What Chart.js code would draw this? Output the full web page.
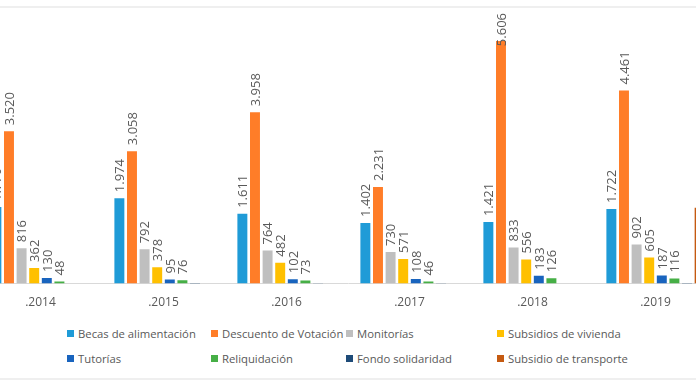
<!DOCTYPE html>
<html>
<head>
<meta charset="utf-8">
<script src="https://cdn.jsdelivr.net/npm/chart.js@4/dist/chart.umd.min.js"></script>
<style>
  html, body { margin: 0; padding: 0; background: #fff; }
  body { width: 696px; height: 385px; overflow: hidden; position: relative; font-family: "Open Sans", sans-serif; }
  #frame { position: absolute; left: 0; top: 6px; width: 696px; height: 370px; border-top: 2px solid #efefef; border-bottom: 2px solid #efefef; }
  #wrap { position: absolute; left: -21px; top: 0; width: 738px; height: 322px; }
  .leg { position: absolute; font-size: 11.3px; color: #595959; white-space: nowrap; line-height: 14px; }
  .leg i { display: inline-block; width: 7px; height: 7px; margin-right: 4px; vertical-align: 1px; }
</style>
</head>
<body>
<div id="frame"></div>
<div id="wrap"><canvas id="myChart"></canvas></div>
<div id="legend"></div>
<script>
//categories and series
const years = ['.2014', '.2015', '.2016', '.2017', '.2018', '.2019'];
const becas = [1770, 1974, 1611, 1402, 1421, 1722];
const descuento = [3520, 3058, 3958, 2231, 5606, 4461];
const monitorias = [816, 792, 764, 730, 833, 902];
const vivienda = [362, 378, 482, 571, 556, 605];
const tutorias = [130, 95, 102, 108, 183, 187];
const reliquidacion = [48, 76, 73, 46, 126, 116];
const fondo = [0, 15, 10, 10, 0, 15];
const transporte = [0, 0, 0, 0, 0, 1750];

//colors
const cBecas = 'rgb(31, 155, 215)';
const cDescuento = 'rgb(255, 125, 40)';
const cMonitorias = 'rgb(191, 191, 191)';
const cVivienda = 'rgb(255, 192, 0)';
const cTutorias = 'rgb(25, 100, 190)';
const cReliq = 'rgb(70, 175, 70)';
const cFondo = 'rgb(30, 75, 120)';
const cTransporte = 'rgb(197, 90, 17)';

const series = [
    {label: 'Becas de alimentación', data: becas, color: cBecas},
    {label: 'Descuento de Votación', data: descuento, color: cDescuento},
    {label: 'Monitorías', data: monitorias, color: cMonitorias},
    {label: 'Subsidios de vivienda', data: vivienda, color: cVivienda},
    {label: 'Tutorías', data: tutorias, color: cTutorias},
    {label: 'Reliquidación', data: reliquidacion, color: cReliq},
    {label: 'Fondo solidaridad', data: fondo, color: cFondo},
    {label: 'Subsidio de transporte', data: transporte, color: cTransporte}
];

//legend columns like the excel one (page coords)
const legendPos = [
    [67, 327], [211, 327], [346, 327], [497, 327],
    [67, 352], [211, 352], [346, 352], [497, 352]
];

//1974 -> "1.974"
function fmt(v){
    if(v < 1000) return '' + v;
    let rest = '' + (v % 1000);
    while(rest.length < 3) rest = '0' + rest;
    return Math.floor(v / 1000) + '.' + rest;
}

//rotated value labels over the first six series
const valueLabels = {
    id: 'valueLabels',
    afterDatasetsDraw(chart){
        const ctx = chart.ctx;
        ctx.save();
        ctx.font = '13px "Open Sans"';
        ctx.fillStyle = '#595959';
        ctx.textAlign = 'left';
        ctx.textBaseline = 'middle';
        for(let i = 0; i < 6; i++){
            const meta = chart.getDatasetMeta(i);
            meta.data.forEach(function(bar, j){
                const txt = fmt(chart.data.datasets[i].data[j]);
                const w = ctx.measureText(txt).width;
                let y = bar.y - 6;
                //no room above: push the label down like excel does
                if(y - w < 13) y = 13 + w;
                ctx.save();
                ctx.translate(bar.x + 1, y);
                ctx.rotate(-Math.PI / 2);
                ctx.fillText(txt, 0, 0);
                ctx.restore();
            });
        }
        ctx.restore();
    }
};

const config = {
    type: 'bar',
    data: {
        labels: years,
        datasets: series.map(s => ({
            label: s.label,
            data: s.data,
            backgroundColor: s.color,
            categoryPercentage: 0.82,
            barPercentage: 0.79
        }))
    },
    options: {
        responsive: true,
        maintainAspectRatio: false,
        animation: false,
        layout: { padding: { top: 10, left: 0, right: 0, bottom: 0 } },
        plugins: {
            legend: { display: false },
            tooltip: { enabled: false }
        },
        scales: {
            x: {
                grid: { display: false, drawTicks: false },
                border: { display: true, color: '#d9d9d9', width: 1 },
                ticks: {
                    color: '#595959',
                    font: { family: '"Open Sans"', size: 12 },
                    padding: 12
                }
            },
            y: {
                display: false,
                min: 0,
                max: 6320
            }
        }
    },
    plugins: [valueLabels]
};

const myChart = new Chart(document.getElementById('myChart').getContext('2d'), config);

//html legend
const legend = document.getElementById('legend');
series.forEach(function(s, i){
    const d = document.createElement('div');
    d.className = 'leg';
    d.style.left = legendPos[i][0] + 'px';
    d.style.top = legendPos[i][1] + 'px';
    d.innerHTML = '<i style="background:' + s.color + '"></i>' + s.label;
    legend.appendChild(d);
});
</script>
</body>
</html>
